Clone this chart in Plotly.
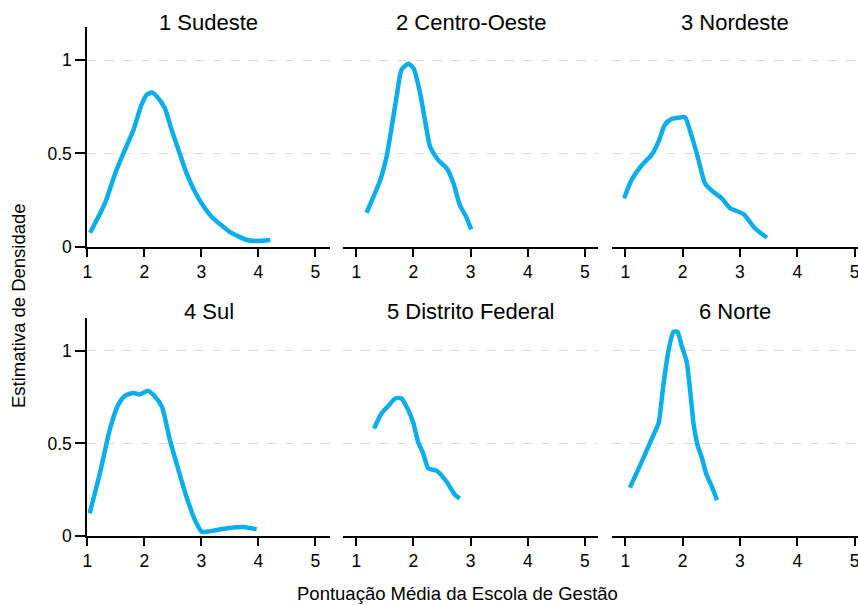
import plotly.graph_objects as go

W, H = 858, 605

regions = ["1 Sudeste", "2 Centro-Oeste", "3 Nordeste", "4 Sul", "5 Distrito Federal", "6 Norte"]

x_sudeste = [1.05, 1.31, 1.49, 1.66, 1.81, 1.95, 2.04, 2.13, 2.22, 2.36, 2.48, 2.63, 2.74, 2.95, 3.18, 3.50, 3.80, 3.97, 4.21]
y_sudeste = [0.075, 0.233, 0.394, 0.519, 0.626, 0.760, 0.814, 0.826, 0.805, 0.742, 0.626, 0.492, 0.394, 0.260, 0.161, 0.080, 0.036, 0.031, 0.036]

x_centro = [1.18, 1.30, 1.41, 1.53, 1.62, 1.71, 1.79, 1.91, 2.00, 2.11, 2.20, 2.29, 2.43, 2.58, 2.70, 2.81, 2.92, 3.01]
y_centro = [0.182, 0.268, 0.349, 0.483, 0.644, 0.814, 0.948, 0.980, 0.957, 0.832, 0.680, 0.537, 0.465, 0.421, 0.340, 0.224, 0.161, 0.093]

x_nordeste = [0.98, 1.11, 1.29, 1.46, 1.58, 1.69, 1.81, 1.95, 2.04, 2.16, 2.27, 2.39, 2.53, 2.68, 2.83, 3.06, 3.26, 3.47]
y_nordeste = [0.260, 0.358, 0.438, 0.492, 0.563, 0.653, 0.685, 0.692, 0.694, 0.590, 0.474, 0.340, 0.295, 0.260, 0.206, 0.175, 0.099, 0.048]

x_sul = [1.04, 1.22, 1.40, 1.54, 1.66, 1.81, 1.92, 2.07, 2.19, 2.31, 2.45, 2.60, 2.74, 2.89, 3.01, 3.21, 3.45, 3.74, 3.97]
y_sul = [0.122, 0.338, 0.581, 0.707, 0.757, 0.773, 0.765, 0.784, 0.752, 0.698, 0.518, 0.356, 0.212, 0.086, 0.023, 0.029, 0.042, 0.049, 0.036]

x_df = [1.31, 1.44, 1.56, 1.68, 1.79, 1.91, 2.00, 2.08, 2.17, 2.26, 2.41, 2.58, 2.73, 2.81]
y_df = [0.581, 0.662, 0.702, 0.743, 0.743, 0.680, 0.608, 0.509, 0.446, 0.365, 0.352, 0.293, 0.221, 0.203]

x_norte = [1.08, 1.26, 1.49, 1.58, 1.66, 1.75, 1.84, 1.91, 1.98, 2.07, 2.13, 2.19, 2.26, 2.33, 2.41, 2.51, 2.60]
y_norte = [0.261, 0.383, 0.545, 0.608, 0.806, 0.995, 1.103, 1.103, 1.031, 0.941, 0.788, 0.608, 0.491, 0.428, 0.338, 0.266, 0.194]

series_x = [x_sudeste, x_centro, x_nordeste, x_sul, x_df, x_norte]
series_y = [y_sudeste, y_centro, y_nordeste, y_sul, y_df, y_norte]

x_ticks = [1, 2, 3, 4, 5]
y_ticks = [0, 0.5, 1]
y_ticklabels = ["0", "0.5", "1"]

x_title = "Pontuação Média da Escola de Gestão"
y_title = "Estimativa de Densidade"

LINE_COLOR = "#0AAEEB"
FONT = "Liberation Sans, Arial, sans-serif"

# pixel layout of panels (left, right) and rows (top, bottom)
col_px = [(87.3, 330.0), (342.7, 598.3), (611.7, 858.0)]
col_rng = [(1.0, 5.258), (0.762, 5.233), (0.763, 5.058)]
row_px = [(27.3, 246.7), (318.3, 536.0)]
y_rng = (0, 1.176)

fig = go.Figure()
layout = dict(
    width=W, height=H, autosize=False,
    margin=dict(l=0, r=0, t=0, b=0, pad=0),
    paper_bgcolor="white", plot_bgcolor="white",
    showlegend=False,
    font=dict(family=FONT, color="black"),
)
annotations = []
for i in range(6):
    r, c = divmod(i, 3)
    n = "" if i == 0 else str(i + 1)
    xa, ya = "x" + n, "y" + n
    fig.add_trace(go.Scatter(
        x=series_x[i], y=series_y[i], mode="lines",
        line=dict(color=LINE_COLOR, width=4.5, shape="spline", smoothing=0.6),
        xaxis=xa, yaxis=ya, hoverinfo="skip", cliponaxis=False))
    l, rr = col_px[c]
    t, b = row_px[r]
    layout["xaxis" + n] = dict(
        domain=[l / W, rr / W], range=list(col_rng[c]), anchor=ya,
        showline=True, linecolor="black", linewidth=2,
        ticks="outside", ticklen=8, tickwidth=2, tickcolor="black",
        tickvals=x_ticks, showgrid=False, zeroline=False, automargin=False,
        ticklabeloverflow="allow",
        tickfont=dict(size=17.5, family=FONT, color="black"), fixedrange=True)
    first = (c == 0)
    layout["yaxis" + n] = dict(
        domain=[1 - b / H, 1 - t / H], range=list(y_rng), anchor=xa,
        showline=first, linecolor="black", linewidth=2,
        ticks="outside" if first else "", ticklen=10, tickwidth=2, tickcolor="black",
        tickvals=y_ticks, ticktext=y_ticklabels, showticklabels=first,
        showgrid=True, gridcolor="#dcdcdc", griddash="dash", gridwidth=1,
        zeroline=False, automargin=False,
        tickfont=dict(size=17.5, family=FONT, color="black"), fixedrange=True)
    annotations.append(dict(
        text=regions[i], x=(l + rr) / 2 / W, y=1 - (22 if r == 0 else 311) / H,
        xref="paper", yref="paper", showarrow=False, xanchor="center", yanchor="middle",
        font=dict(size=22, family=FONT, color="black")))

annotations.append(dict(text=x_title, x=457.5 / W, y=1 - 593 / H, xref="paper", yref="paper",
                        showarrow=False, xanchor="center", yanchor="middle",
                        font=dict(size=18.5, family=FONT, color="black")))
annotations.append(dict(text=y_title, x=18 / W, y=1 - 306 / H, xref="paper", yref="paper",
                        showarrow=False, xanchor="center", yanchor="middle", textangle=-90,
                        font=dict(size=18.5, family=FONT, color="black")))
layout["annotations"] = annotations
fig.update_layout(**layout)
fig.write_html("out.html", config={"responsive": False, "displayModeBar": False},
               post_script="document.body.style.margin='0';document.body.style.overflow='hidden';")
